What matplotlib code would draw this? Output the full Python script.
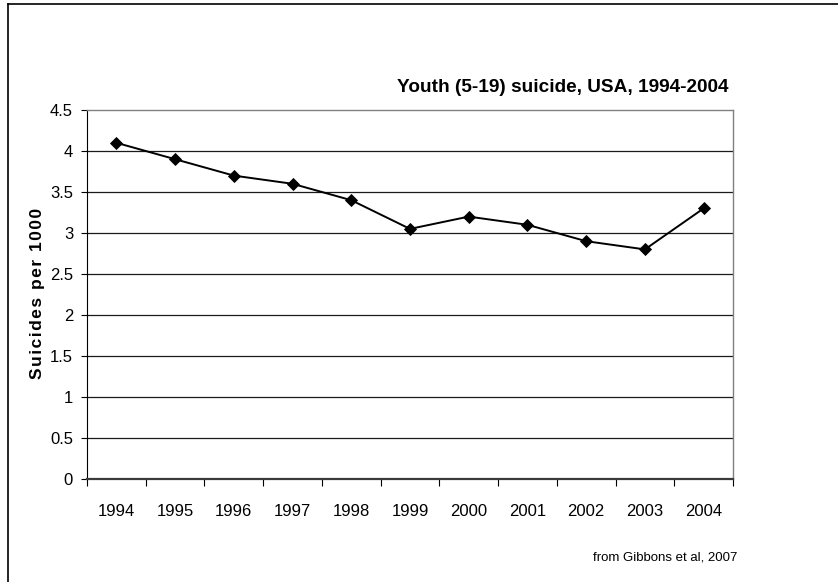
import matplotlib

matplotlib.use("Agg")
import matplotlib.pyplot as plt
from matplotlib.lines import Line2D
import numpy as np

years = ["1994", "1995", "1996", "1997", "1998", "1999",
         "2000", "2001", "2002", "2003", "2004"]
suicides = [4.1, 3.9, 3.7, 3.6, 3.4, 3.05, 3.2, 3.1, 2.9, 2.8, 3.3]
y_ticks = [0, 0.5, 1, 1.5, 2, 2.5, 3, 3.5, 4, 4.5]
y_tick_labels = ["0", "0.5", "1", "1.5", "2", "2.5", "3", "3.5", "4", "4.5"]

plt.rcParams["font.family"] = ["Liberation Sans", "DejaVu Sans"]

fig = plt.figure(figsize=(8.38, 5.82), dpi=100)
ax = fig.add_axes([87 / 838, 1 - 479 / 582, (733 - 87) / 838, (479 - 110) / 582])

pos = np.arange(1, len(years) + 1)
ax.plot(pos, suicides, color="black", lw=1.4, marker="D", ms=6.3,
        mfc="black", mec="black", mew=0.6, zorder=3)

ax.set_xlim(0.5, len(years) + 0.5)
ax.set_ylim(0, 4.5)

# horizontal gridlines, the top one is drawn by the plot-area border
for y in y_ticks[1:-1]:
    ax.axhline(y, color="#1a1a1a", lw=0.9, zorder=1)

ax.set_yticks(y_ticks)
ax.set_yticklabels(y_tick_labels)
ax.tick_params(axis="y", direction="out", length=4, width=0.8, pad=6,
               labelsize=12, color="black")

# category boundaries carry the tick marks, labels sit between them
ax.set_xticks(np.arange(0.5, len(years) + 1, 1))
ax.set_xticklabels([])
ax.tick_params(axis="x", which="major", direction="out", length=5, width=0.8,
               color="black")
ax.set_xticks(pos, minor=True)
ax.set_xticklabels(years, minor=True)
ax.tick_params(axis="x", which="minor", length=0, pad=18, labelsize=12)

ax.spines["left"].set_color("black")
ax.spines["left"].set_linewidth(0.8)
ax.spines["bottom"].set_color("#3a3a3a")
ax.spines["bottom"].set_linewidth(1.6)
for side in ("top", "right"):
    ax.spines[side].set_color("#808080")
    ax.spines[side].set_linewidth(1.0)

# letter-spaced axis title
hair = "\u200a"
ax.set_ylabel(hair.join("Suicides per 1000"), fontsize=12.5, fontweight="bold")
ax.yaxis.set_label_coords((45 - 87) / 646, (479 - 293) / 369)

fig.text(728 / 838, 1 - 87 / 582, "Youth (5-19) suicide, USA, 1994-2004",
         ha="right", va="center", fontsize=13.7, fontweight="bold")
fig.text(737 / 838, 1 - 557 / 582, "from Gibbons et al, 2007",
         ha="right", va="center", fontsize=9.5)

# outer frame around the slide, open to the right and bottom
fig.add_artist(Line2D([8 / 838, 8 / 838], [0, 1 - 4 / 582],
                      transform=fig.transFigure, color="black", lw=1.2))
fig.add_artist(Line2D([8 / 838, 1], [1 - 4 / 582, 1 - 4 / 582],
                      transform=fig.transFigure, color="black", lw=1.2))

fig.savefig("out.png", dpi=100, facecolor="white")
plt.close(fig)
